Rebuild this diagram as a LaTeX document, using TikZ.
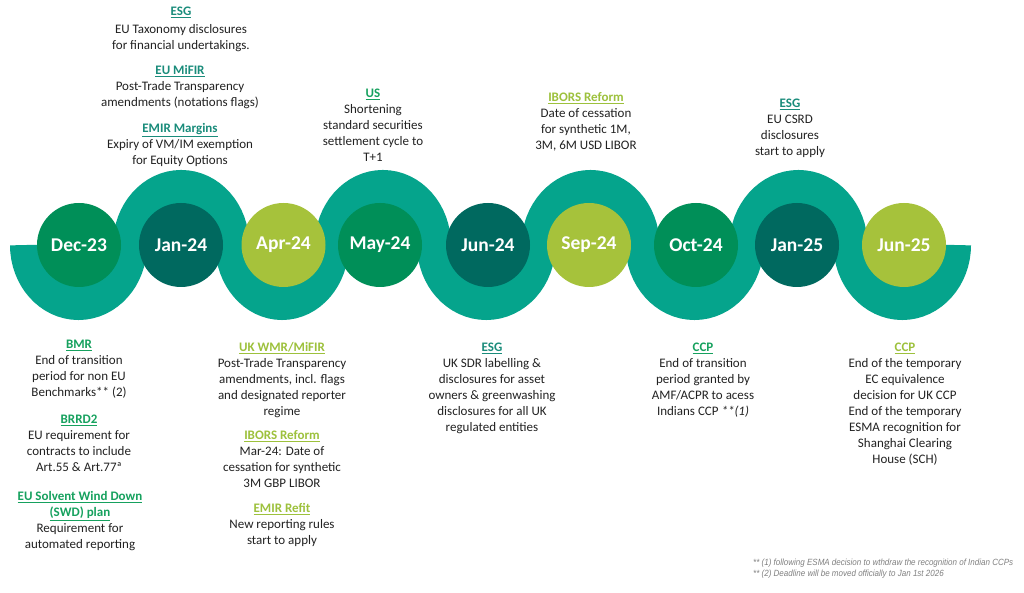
\documentclass[tikz,border=0pt]{standalone}
\usepackage{fontspec}
\setmainfont{Carlito}
\newfontfamily\notefont[FakeStretch=0.89]{Liberation Sans}
\usepackage{xcolor}
\usepackage{tikz}
\usetikzlibrary{positioning}

\definecolor{bandCol}{HTML}{05A48C}
\definecolor{circGreen}{HTML}{008F58}
\definecolor{circTeal}{HTML}{00695F}
\definecolor{circLime}{HTML}{A6C23B}
\definecolor{hdTeal}{HTML}{1A8C7B}
\definecolor{hdGreen}{HTML}{16A15E}
\definecolor{hdLime}{HTML}{9DC13C}
\definecolor{bodyCol}{HTML}{222222}
\definecolor{noteGray}{HTML}{808080}

\newcommand{\hd}[2]{{\bfseries\color{#1}\underline{#2}}}

\tikzset{
	band/.style={draw=bandCol, line width=34pt},
	month/.style={circle, minimum size=84pt, inner sep=0pt, text=white, font=\fontsize{19.5}{22}\selectfont\bfseries},
	note/.style={anchor=north, align=center, inner sep=0pt, text=bodyCol, font=\fontsize{13}{16}\selectfont},
	foot/.style={anchor=base west, inner sep=0pt, text=noteGray, font=\notefont\itshape\fontsize{9}{11}\selectfont}
}

\begin{document}
\begin{tikzpicture}[x=1pt, y=1pt]
	\useasboundingbox (0,0) rectangle (1024,593);
	\fill[white] (0,0) rectangle (1024,593);
	
	% serpentine band
	\draw[band] (27,348) \foreach \rx/\ang in {51.5/360, 51.125/0, 49.75/360, 51.125/0, 52.25/360, 52/0, 52/360, 52/0, 51.75/360} {
		arc[start angle=180, end angle=\ang, x radius=\rx, y radius=58]};
	
	\foreach \name/\x/\col/\txt in {dec23/79/circGreen/Dec-23, jan24/181/circTeal/Jan-24, apr24/283.5/circLime/Apr-24, may24/380/circGreen/May-24, jun24/488/circTeal/Jun-24, sep24/589/circLime/Sep-24, oct24/696/circGreen/Oct-24, jan25/797/circTeal/Jan-25, jun25/904/circLime/Jun-25}
		\node[month, fill=\col] (\name) at (\x,348) {\txt};
	
	% above the band
	\node[note] (esgTax) at (181,589) {\strut\hd{hdTeal}{ESG}\\[2pt]EU Taxonomy disclosures\\for financial undertakings.};
	\node[note] (mifir) at (180,530) {\strut\hd{hdTeal}{EU MiFIR}\\Post-Trade Transparency\\amendments (notations flags)};
	\node[note] (emirMarg) at (180,472) {\strut\hd{hdTeal}{EMIR Margins}\\Expiry of VM/IM exemption\\for Equity Options};
	\node[note] (usT1) at (373,507) {\strut\hd{hdGreen}{US}\\Shortening\\standard securities\\settlement cycle to\\T+1};
	\node[note] (iborsUsd) at (586,503) {\strut\hd{hdLime}{IBORS Reform}\\Date of cessation\\for synthetic 1M,\\3M, 6M USD LIBOR};
	\node[note] (esgCsrd) at (790,497) {\strut\hd{hdTeal}{ESG}\\EU CSRD\\disclosures\\start to apply};
	
	% below the band
	\node[note] (bmr) at (79,256) {\strut\hd{hdGreen}{BMR}\\End of transition\\period for non EU\\Benchmarks** (2)};
	\node[note] (brrd) at (79,181) {\strut\hd{hdGreen}{BRRD2}\\EU requirement for\\contracts to include\\Art.55 \& Art.77ª};
	\node[note] (swd) at (80,104) {\strut\hd{hdGreen}{EU Solvent Wind Down}\\\hd{hdGreen}{(SWD) plan}\\Requirement for\\automated reporting};
	\node[note] (ukWmr) at (282,253) {\strut\hd{hdLime}{UK WMR/MiFIR}\\Post-Trade Transparency\\amendments, incl. flags\\and designated reporter\\regime};
	\node[note] (iborsGbp) at (282,165) {\strut\hd{hdLime}{IBORS Reform}\\Mar-24: Date of\\cessation for synthetic\\3M GBP LIBOR};
	\node[note] (emirRefit) at (282,92) {\strut\hd{hdLime}{EMIR Refit}\\New reporting rules\\start to apply};
	\node[note] (esgSdr) at (492,253) {\strut\hd{hdTeal}{ESG}\\UK SDR labelling \&\\disclosures for asset\\owners \& greenwashing\\disclosures for all UK\\regulated entities};
	\node[note] (ccpInd) at (703,253) {\strut\hd{hdGreen}{CCP}\\End of transition\\period granted by\\AMF/ACPR to acess\\Indians CCP \textit{**(1)}};
	\node[note] (ccpUk) at (905,253) {\strut\hd{hdLime}{CCP}\\End of the temporary\\EC equivalence\\decision for UK CCP\\End of the temporary\\ESMA recognition for\\Shanghai Clearing\\House (SCH)};
	
	% footnotes
	\node[foot] (foot1) at (753,27.5) {** (1) following ESMA decision to wthdraw the recognition of Indian CCPs};
	\node[foot] (foot2) at (753,16.5) {** (2) Deadline will be moved officially to Jan 1st 2026};
\end{tikzpicture}
\end{document}
